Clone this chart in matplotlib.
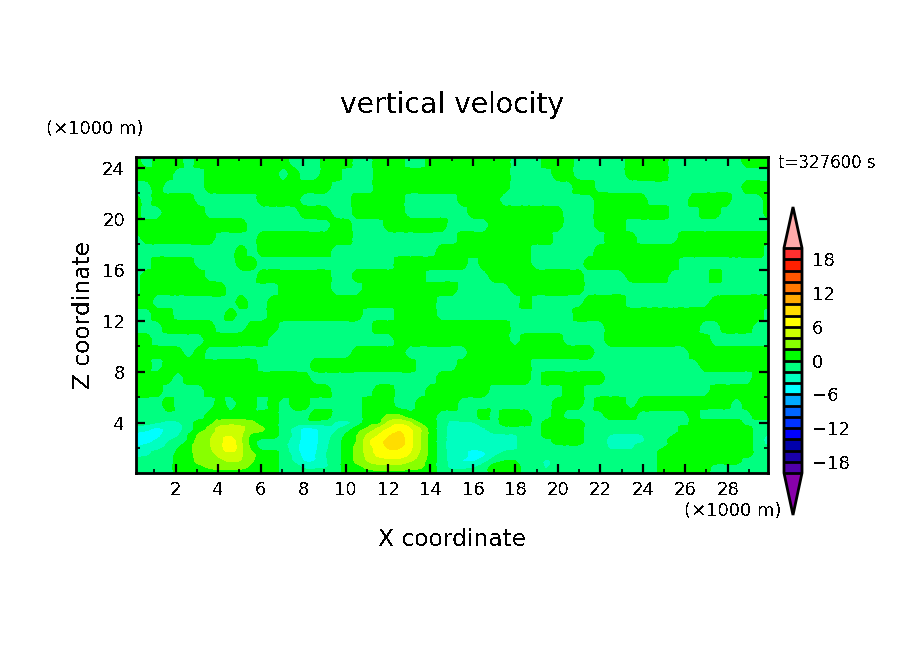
import numpy as np
from matplotlib import pyplot as plt
from matplotlib.colors import BoundaryNorm, ListedColormap
from matplotlib.ticker import FixedLocator, MultipleLocator
from matplotlib.tri import CubicTriInterpolator, Triangulation, UniformTriRefiner

plt.rcParams['text.antialiased'] = False

# 61 columns across the plot, first row is the top of the domain
x_km = np.linspace(0.13, 29.9, 61)
z_km = [24.85, 24.5, 23.5, 22.5, 21.5, 20.5, 19.5, 18.5, 17.5, 16.5, 15.5, 14.5, 13.5, 12.5,
        11.5, 10.5, 9.5, 8.5, 7.5, 6.5, 5.5, 4.5, 4, 3.5, 3, 2.5, 2, 1.5, 1, 0.5, 0.05]

w_upper = [
    [1,-1,1,1,1,-1,1,1,1,1, 1,1,1,1,1,-1,-1,-1,1,1, 1,-1,-1,1,1,1,-1,-1,1,1, 1,1,1,1,1,1,-1,-1,-1,1, 1,1,-1,-1,-1,-1,-1,1,1,1, 1,-1,-1,-1,-1,-1,-1,-1,1,1, 1],
    [1,-1,1,1,1,-1,1,1,1,1, 1,1,1,1,1,-1,-1,-1,1,1, 1,-1,-1,1,1,1,-1,-1,1,1, 1,1,1,1,1,1,-1,-1,-1,1, 1,1,-1,-1,-1,-1,-1,1,1,1, 1,-1,-1,-1,-1,-1,-1,-1,1,1, 1],
    [1,1,1,1,-1,-1,-1,1,1,1, 1,1,1,1,-1,1,-1,-1,1,1, -1,-1,-1,1,1,1,1,1,1,1, 1,1,1,1,1,1,-1,-1,-1,-1, 1,1,-1,-1,-1,-1,-1,1,1,1, 1,-1,-1,-1,-1,-1,-1,-1,-1,-1, -1],
    [-1,-1,1,-1,-1,-1,-1,1,1,1, 1,1,1,1,1,1,1,1,1,-1, -1,-1,-1,1,1,1,1,1,1,1, 1,1,1,1,1,1,-1,-1,-1,-1, -1,-1,1,1,-1,-1,-1,-1,-1,-1, -1,-1,-1,-1,-1,-1,-1,-1,1,1, 1],
    [1,-1,1,1,1,1,-1,-1,-1,-1, -1,-1,1,1,1,1,-1,-1,-1,-1, -1,1,1,1,1,1,-1,-1,-1,-1, -1,1,1,1,1,-1,-1,-1,-1,-1, -1,-1,-1,-1,1,1,1,1,1,-1, -1,-1,-1,1,1,1,1,-1,-1,-1, 1],
    [1,-1,-1,1,1,1,1,-1,-1,-1, -1,-1,-1,-1,-1,-1,1,1,1,-1, -1,1,1,1,1,1,-1,-1,-1,-1, -1,-1,1,1,1,1,1,1,1,1, 1,-1,-1,-1,1,1,1,1,1,1, 1,-1,-1,-1,1,1,-1,-1,-1,-1, 1],
    [1,1,1,1,1,1,1,1,1,1, 1,-1,-1,-1,-1,-1,-1,-1,-1,1, 1,-1,-1,-1,1,1,1,1,1,1, -1,-1,-1,-1,1,1,1,1,1,1, 1,-1,-1,-1,1,1,1,-1,-1,-1, -1,-1,-1,-1,-1,-1,-1,-1,-1,-1, -1],
    [-1,1,1,1,1,1,1,1,-1,-1, -1,-1,1,1,1,1,1,1,1,1, 1,-1,-1,-1,-1,-1,-1,-1,-1,-1, -1,1,1,1,1,1,1,1,1,1, -1,-1,-1,-1,-1,1,1,1,-1,-1, -1,-1,1,1,1,1,1,1,1,1, 1],
    [-1,-1,-1,-1,-1,-1,-1,-1,-1,-1, 1,-1,1,1,1,1,1,1,1,-1, -1,-1,-1,-1,-1,-1,-1,-1,-1,1, 1,1,1,1,1,1,1,1,-1,-1, -1,-1,-1,-1,1,1,1,1,1,1, 1,1,1,1,1,1,1,1,1,1, -1],
    [-1,-1,1,1,1,1,-1,-1,-1,-1, 1,1,-1,-1,-1,-1,-1,-1,-1,-1, -1,-1,-1,-1,-1,1,1,1,1,1, 1,1,-1,1,1,1,1,1,-1,-1, -1,-1,-1,1,1,1,1,1,1,1, 1,1,-1,-1,-1,-1,-1,-1,-1,-1, -1],
    [-1,1,1,1,1,1,1,-1,-1,-1, -1,-1,1,1,1,1,1,1,1,-1, -1,1,1,1,1,1,1,1,-1,-1, -1,-1,-1,-1,1,1,1,1,1,1, 1,1,1,-1,-1,-1,-1,1,1,1, 1,-1,-1,-1,-1,1,-1,-1,-1,-1, -1],
    [-1,1,1,1,1,1,1,1,1,-1, -1,-1,-1,-1,1,1,1,1,1,-1, -1,-1,1,1,1,1,1,1,1,1, 1,-1,-1,-1,-1,-1,1,1,1,1, 1,1,1,-1,-1,-1,-1,-1,-1,-1, -1,-1,-1,-1,-1,-1,-1,-1,-1,-1, -1],
    [1,1,-1,-1,-1,-1,-1,-1,-1,-1, 1,-1,-1,1,1,1,1,1,1,1, 1,1,1,1,1,1,1,1,1,-1, -1,-1,-1,-1,-1,-1,-1,1,-1,-1, -1,-1,-1,1,1,1,1,-1,-1,-1, -1,-1,-1,-1,-1,1,1,1,1,1, 1],
    [-1,-1,1,1,-1,-1,-1,-1,-1,1, -1,-1,-1,1,1,1,1,1,1,1, 1,1,-1,-1,-1,1,1,1,1,-1, -1,-1,-1,-1,-1,-1,-1,-1,-1,-1, -1,-1,1,1,1,1,1,1,1,1, 1,1,1,1,1,1,1,1,1,1, -1],
]

w_middle = [
    [-1,-1,-1,1,1,1,1,1,-1,-1, -1,1,1,1,-1,-1,-1,-1,-1,-1, -1,-1,-1,1,1,1,1,1,1,1, 1,1,1,1,1,1,-1,-1,-1,-1, -1,-1,-1,-1,-1,1,1,1,1,1, 1,1,1,1,-1,-1,1,1,1,-1, -1],
    [1,1,-1,-1,-1,-1,-1,1,1,1, 1,1,1,-1,-1,-1,-1,-1,-1,-1, -1,-1,-1,-1,-1,1,1,1,1,1, 1,1,1,1,1,1,-1,1,1,1, 1,-1,-1,-1,-1,1,1,1,1,1, 1,1,1,1,1,-1,-1,-1,-1,-1, -1],
    [1,1,1,1,1,-1,1,-1,-1,-1, -1,-1,-1,-1,-1,-1,-1,-1,-1,-1, -1,1,1,1,1,1,-1,-1,-1,-1, -1,-1,1,1,1,1,1,1,1,1, 1,1,1,1,-1,-1,-1,-1,-1,-1, -1,-1,-1,1,1,1,1,1,1,1, 1],
    [1,1,-1,1,1,1,1,1,1,1, 1,1,-1,-1,-1,-1,-1,1,1,1, 1,1,1,1,1,1,1,-1,-1,-1, -1,1,1,1,1,1,1,1,-1,-1, -1,-1,-1,-1,-1,-1,-1,-1,-1,-1, -1,-1,-1,-1,1,1,1,1,1,1, 1],
    [1,1,1,1,-1,1,1,1,1,1, 1,1,1,1,1,1,1,-1,-1,-1, -1,-1,-1,-1,-1,-1,-1,-1,-1,1, 1,1,1,1,1,1,1,1,-1,1, 1,1,1,1,1,-1,-1,-1,-1,-1, -1,-1,-1,-1,-1,-1,-1,-1,-1,1, 1],
    [1,1,1,-1,-1,-1,-1,1,1,1, 1,1,1,1,1,1,1,1,1,-1, -1,-1,-1,1,1,-1,-1,-1,1,1, 1,1,1,1,-1,-1,-1,-1,-1,-1, -1,1,1,-1,-1,-1,-1,-1,-1,-1, -1,-1,-1,-1,-1,1,1,1,1,1, 1],
    [-1,-1,-1,1,-1,-1,-1,-1,1,-1, 1,1,-1,1,-1,1,1,-1,-1,-1, -1,-1,1,1,1,-1,-1,1,1,1, 1,-1,-1,-1,-1,-1,-1,-1,-1,-1, 1,1,1,-1,1,1,1,-1,1,1, 1,1,1,1,1,1,1,-1,1,1, 1],
]

# near the ground the two updrafts and the downdrafts between them, every 500 m
w_lower = [
    [-1,-1,-1,-1,-1,-1,-1,1,1,1, 1,1,1,1,-1,-1,-1,1,1,-1, -1,-1,1,1,2.5,2.5,1,1,1,-1, -1,-1,-1,1,-1,1,1,1,-1,-1, 1,-1,-1,-1,-1,1,1,1,-1,-1, -1,-1,-1,1,-1,-1,-1,-1,-1,1, 1],
    [-1,-1.5,-2,-2.5,-2.2,-1,1,1.5,2.8,3.2, 3,2.5,1,1,-1,-1,-1,-1,-1.2,-2.2, -2.4,-1,1,1.4,4.4,5.5,4.2,1.8,1,-1, -2.4,-2.2,-2.1,-1,-1,1,1,1,-1,1, 1,1,1,-1,-1,-1,-1,-1,-1,-1, -1,-1,-1,1,1,1,1,1,-1,-1, -1],
    [-3,-3.5,-4.5,-3.5,-2.5,-1,1,2.5,5,5.2, 4.5,3,2.2,1,-1,-2.5,-4.5,-4.2,-3,-2.2, -1,1,2.5,4.5,6.2,7.5,6.2,4,1,-1, -3,-3,-2.8,-2.2,-1,-1,-1,-1,-1,1, 1,1,1,-1,-1,-1,-1,-1,-1,-1, -1,-1,1,1,1,1,1,1,1,-1, -1],
    [-4.6,-5,-4.6,-3,-2.1,0.2,2.4,3.6,5.2,5.8, 4.2,1.5,1,1,-1,-2.4,-4.7,-4.4,-2.8,-1.5, 0.4,2,4.3,6,7.8,8.5,6.6,4,1.2,-1, -3,-3,-3,-2.8,-2.4,-2.2,-2.1,-1,-1,1, 1,1,1,-1,-1,-2.1,-2.4,-2.4,-2.1,-1, -1,0,1,1,1,1,1,1,1,-1, -2.2],
    [-4.6,-4.5,-3.5,-2.1,-1,0.5,3,3.9,5.4,7, 4.1,1,-1,-1,-1.5,-2.8,-4.8,-4.5,-2.6,-1, 1,2.2,5.5,7.2,8.6,9,6.6,4,1,-1, -3.2,-3.2,-3,-3,-2.6,-2.5,-2.2,-1,-1,-1, 1,1,1,-1,-1,-2.4,-2.6,-2.6,-2.2,-1, -1,1,1,1,1,1,1,1,1,-1, -2.5],
    [-3.8,-3,-2.4,-1.5,0,1.4,3,3.8,5.4,7, 4.4,1.5,-0.5,-0.5,-1.2,-3.2,-4.8,-4.4,-2.4,-1, 1,2.6,5,6.8,8.1,8,6.4,4,1.2,-1, -3.2,-3.6,-3.8,-3.4,-2.6,-2.4,-2.2,-1,-1,-1, -1,-1,-1,-1,-1,-2.1,-2.2,-2.2,-1,-1, 0,1,1,1,1,1,1,1,1,-1, -1.5],
    [-2.8,-2.4,-1.3,-1,0.6,1.2,2.8,3.4,4.5,5, 4.2,2.5,1,1,-1,-2.5,-4.6,-4.1,-2.1,-1, 1,2.6,4.6,6.4,7,7,5.8,3.5,1.2,-1, -3,-3.5,-4.4,-4.3,-2.4,-1.5,-1,-1,-1,-1, -1,-1,-1,-1,-1,-1,-1,-1,-1,-1, 1,1,1,1,1,1,1,1,1,-1, -1],
    [-1,-1,-1,-1,1,1.3,2.5,3,3.6,4.2, 3.8,2.2,1,1,-1,-2.2,-4.1,-4,-2.2,-1, 1,2.4,4.1,5,5.2,5.2,4.2,2.8,1,-1, -2.8,-4,-4.2,-2.8,-1,0,0,-1,-1,-2.3, -1,-1,-1,-1,-1,-1,-1,-1,-1,-1, 1,1,1,1,1,1,1,1,-1,-1, -1],
    [-1,-1,-1,-1,1,1.5,1.6,2.2,2.6,2.6, 2.4,1.6,1,1,-1,-1,-2.4,-2.4,-2.1,-1, 1,1.4,2.4,3,3,3,2.6,2.2,1,-1, -2.5,-2.5,-2.2,-1,1,1,1,-1,-1,-2.1, -1,-1,-1,-1,-1,-1,-1,-1,-1,-1, 1,1,1,1,1,-1,-1,-1,-1,-1, -1],
    [-1,-1,-1,-1,1,1,1,1,1,1, 1,1,1,1,-1,-1,-1,-1,-1,-1, 1,1,1,1,1,1,1,1,1,-1, -1,-1,-1,-1,1,1,1,-1,-1,-1, -1,-1,-1,-1,-1,-1,-1,-1,-1,-1, 1,1,1,1,1,-1,-1,-1,-1,-1, -1],
]

levels = np.arange(-20, 22, 2)
cbar_labels = [-18, -12, -6, 0, 6, 12, 18]
colors = ['#5000aa', '#1a00aa', '#0000aa', '#0000ff', '#0033ff', '#0066ff', '#00aaff',
          '#00ffff', '#00ffc0', '#00ff80', '#00ff00', '#88ff00', '#ccff00', '#ffff00',
          '#ffdd00', '#ffaa00', '#ff7700', '#ff5500', '#ff2000', '#ff3030']


def px_x(x):
    return x / 904


def px_y(y):
    return 1 - y / 654


def main():
    w = np.array(w_upper + w_middle + w_lower)[::-1]
    z = np.array(z_km)[::-1]

    cmap = ListedColormap(colors)
    cmap.set_under('#8800aa')
    cmap.set_over('#ffaaaa')
    norm = BoundaryNorm(levels, cmap.N)

    fig = plt.figure(figsize=(9.04, 6.54), dpi=100)
    ax = fig.add_axes([px_x(136), px_y(473), 632 / 904, 316 / 654])

    # rounder contours than the plain grid gives, let matplotlib refine the triangles
    xx, zz = np.meshgrid(x_km, z)
    tri = Triangulation(xx.ravel(), zz.ravel())
    interp = CubicTriInterpolator(tri, w.ravel(), kind='geom')
    tri_fine, w_fine = UniformTriRefiner(tri).refine_field(w.ravel(), triinterpolator=interp, subdiv=3)
    cf = ax.tricontourf(tri_fine, w_fine, levels=levels, cmap=cmap, norm=norm, extend='both', antialiased=False)

    ax.set_xlim(0.13, 29.9)
    ax.set_ylim(0.05, 24.85)
    ax.set_xticks(np.arange(2, 30, 2))
    ax.set_yticks(np.arange(4, 28, 4))
    ax.xaxis.set_minor_locator(MultipleLocator(1))
    ax.yaxis.set_minor_locator(MultipleLocator(2))
    ax.tick_params(which='major', direction='in', length=6.5, width=1.6, top=True, right=True, labelsize=13, pad=6)
    ax.tick_params(which='minor', direction='in', length=2.8, width=1.2, top=True, right=True)
    ax.tick_params(axis='y', which='major', pad=8)
    for spine in ax.spines.values():
        spine.set_linewidth(2.0)

    # labels sit at fixed spots in the original, so place them in figure coordinates
    fig.text(px_x(452), px_y(105), 'vertical velocity', fontsize=20.3, ha='center', va='center')
    fig.text(px_x(452), px_y(540), 'X coordinate', fontsize=16.8, ha='center', va='center')
    fig.text(px_x(83), px_y(315), 'Z coordinate', fontsize=16.8, rotation=90, ha='center', va='center')
    fig.text(px_x(95), px_y(129), '(×1000 m)', fontsize=13, ha='center', va='center')
    fig.text(px_x(733), px_y(511), '(×1000 m)', fontsize=13, ha='center', va='center')
    fig.text(px_x(827), px_y(163), 't=327600 s', fontsize=12, ha='center', va='center')

    # extends hang outside the 225 px body: apex 207 on top, 515 below
    cax = fig.add_axes([px_x(784), px_y(515), 18 / 904, 308 / 654])
    cb = fig.colorbar(cf, cax=cax, extend='both', extendfrac=(42 / 225, 41 / 225), drawedges=True)
    cb.dividers.set_color('black')
    cb.dividers.set_linewidth(2.0)
    cb.outline.set_linewidth(2.0)
    cb.ax.yaxis.set_major_locator(FixedLocator(cbar_labels))
    cb.ax.yaxis.set_minor_locator(FixedLocator([]))
    cb.ax.tick_params(length=0, labelsize=13, pad=7)

    plt.savefig('out.png', dpi=100)


if __name__ == '__main__':
    main()
